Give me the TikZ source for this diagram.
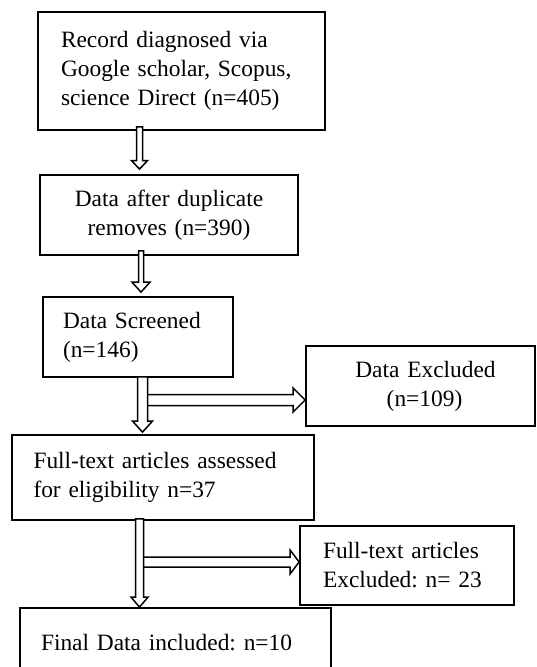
\documentclass[tikz,border=0pt]{standalone}
\usepackage{fontspec}
\setmainfont{Liberation Serif}
\frenchspacing
\usetikzlibrary{calc}
\tikzset{
  box/.style={draw=black, line width=1.8pt, inner ysep=0pt, font=\fontsize{23.4}{29}\selectfont\frenchspacing},
  leftbox/.style={box, align=left},
  midbox/.style={box, align=center},
  harrow/.style={draw=black, fill=white, line width=1.5pt, line join=miter}
}
% vertical hollow arrow: #1 source, #2 target, #3 x centre, #4 shaft half width,
% #5 head half width, #6 head length, #7 overlap into source, #8 gap above target
\newcommand\vhollow[8]{%
  \draw[harrow] let \p1=(#1.south), \p2=(#2.north) in
   ({(#3-#4)*1pt},{\y1+#7pt}) -- ({(#3-#4)*1pt},{\y2+#8pt+#6pt}) --
   ({(#3-#5)*1pt},{\y2+#8pt+#6pt}) -- ({#3*1pt},{\y2+#8pt}) --
   ({(#3+#5)*1pt},{\y2+#8pt+#6pt}) -- ({(#3+#4)*1pt},{\y2+#8pt+#6pt}) --
   ({(#3+#4)*1pt},{\y1+#7pt}) -- cycle;}
% horizontal hollow arrow: #1 target, #2 x start, #3 y centre, #4 shaft half width,
% #5 head half width, #6 head length, #7 gap before target
\newcommand\hhollow[7]{%
  \draw[harrow] let \p2=(#1.west) in
   ({#2*1pt},{-(#3-#4)*1pt}) -- ({\x2-#7pt-#6pt},{-(#3-#4)*1pt}) --
   ({\x2-#7pt-#6pt},{-(#3-#5)*1pt}) -- ({\x2-#7pt},{-#3*1pt}) --
   ({\x2-#7pt-#6pt},{-(#3+#5)*1pt}) -- ({\x2-#7pt-#6pt},{-(#3+#4)*1pt}) --
   ({#2*1pt},{-(#3+#4)*1pt});}
\begin{document}
\begin{tikzpicture}[x=1pt, y=-1pt]
\useasboundingbox (0,0) rectangle (536,667);
\clip (0,0) rectangle (536,667);

\node[leftbox, minimum height=118pt, inner xsep=23pt, text width=241pt] (rec) at (181.5,71)
  {Record diagnosed via\\Google scholar, Scopus,\\science Direct (n=405)};
\node[midbox, minimum height=80pt, inner xsep=10pt, text width=238pt] (dup) at (169,215)
  {Data after duplicate\\removes (n=390)};
\node[leftbox, minimum height=80pt, inner xsep=20pt, text width=150pt] (scr) at (138,337)
  {Data Screened\\(n=146)};
\node[midbox, minimum height=80pt, inner xsep=10pt, text width=209pt] (exc) at (420.5,386)
  {\hspace*{10pt}Data Excluded\\\hspace*{8pt}(n=109)};
\node[leftbox, minimum height=85pt, inner xsep=21.5pt, text width=259pt] (full) at (163,477.5)
  {Full-text articles assessed\\for eligibility n=37};
\node[leftbox, minimum height=79pt, inner xsep=23pt, text width=168pt] (fexc) at (407,565.5)
  {Full-text articles\\Excluded: n= 23};
\node[leftbox, minimum height=70pt, inner xsep=21pt, text width=269pt] (fin) at (175.5,643)
  {Final Data included: n=10};

\hhollow{exc}{147.5}{400}{5.5}{12}{12}{0}
\hhollow{fexc}{143.5}{562}{5}{12}{9}{0}

\vhollow{rec}{dup}{139.5}{3}{8}{8.5}{4}{5}
\vhollow{dup}{scr}{141}{2.5}{9}{10}{5}{4}
\vhollow{scr}{full}{142.5}{5}{10}{11}{1}{2}
\vhollow{full}{fin}{139.5}{4}{8.5}{10}{2}{0}
\end{tikzpicture}
\end{document}
